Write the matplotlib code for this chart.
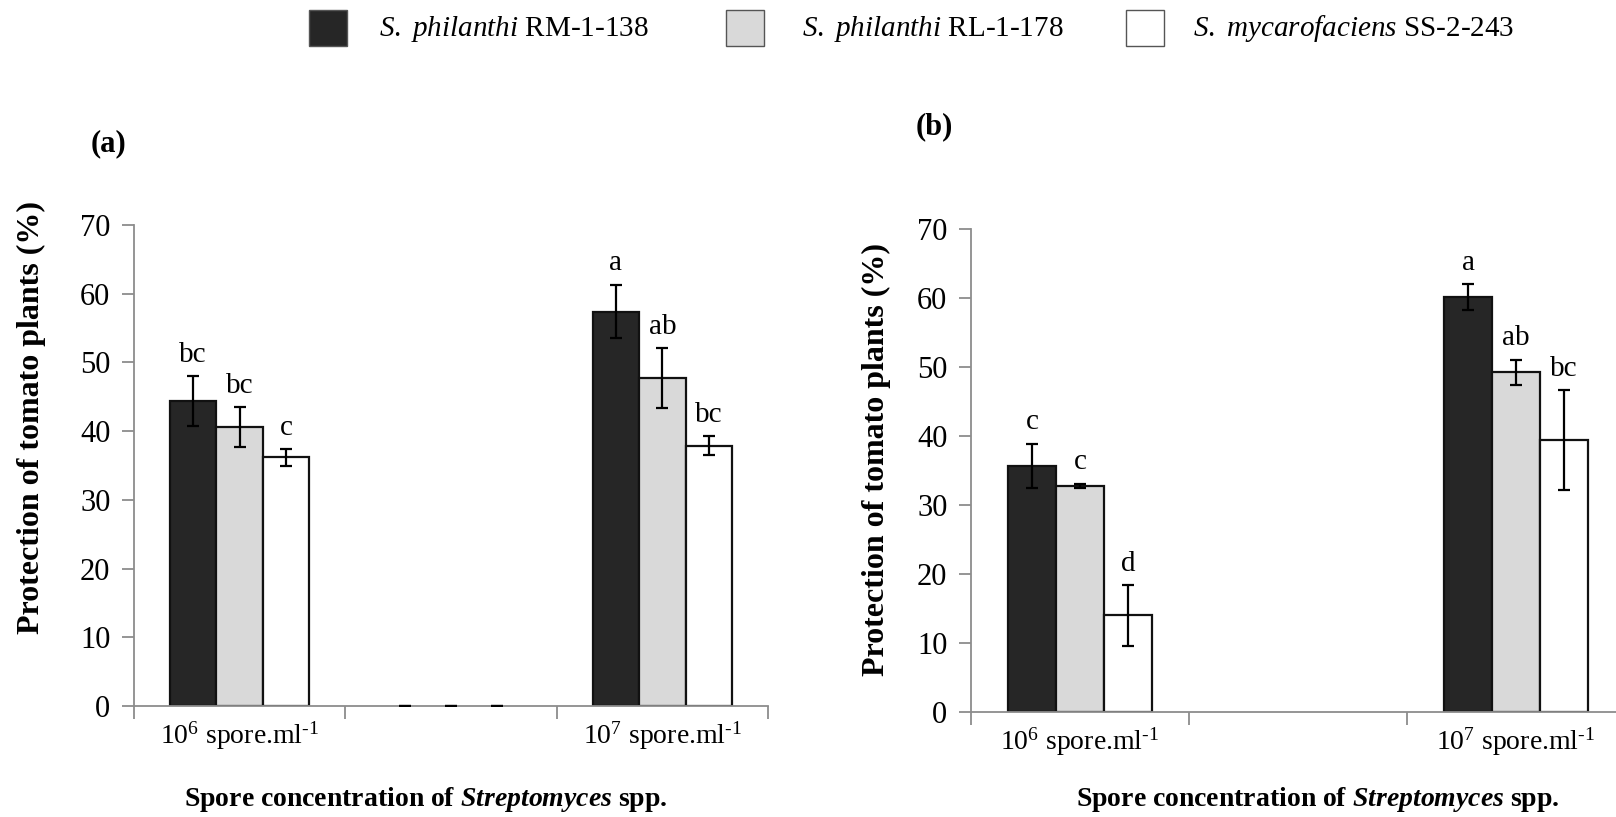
import matplotlib
matplotlib.use('Agg')
import matplotlib.pyplot as plt
import numpy as np

plt.rcParams['font.family'] = ['Liberation Serif', 'DejaVu Serif']
plt.rcParams['mathtext.fontset'] = 'custom'
plt.rcParams['mathtext.rm'] = 'Liberation Serif'
plt.rcParams['mathtext.it'] = 'Liberation Serif:italic'
plt.rcParams['mathtext.bf'] = 'Liberation Serif:bold'
plt.rcParams['mathtext.bfit'] = 'Liberation Serif:bold:italic'

# data
strains = [r'$\mathit{S.}$ $\mathit{philanthi}$ RM-1-138',
           r'$\mathit{S.}$ $\mathit{philanthi}$ RL-1-178',
           r'$\mathit{S.}$ $\mathit{mycarofaciens}$ SS-2-243']
colors = ['#262626', '#d9d9d9', '#ffffff']
cat_labels = [r'10$^{\mathrm{6}}$ spore.ml$^{\text{-}\mathrm{1}}$', '',
              r'10$^{\mathrm{7}}$ spore.ml$^{\text{-}\mathrm{1}}$']

# panel (a): 3 categories, middle one empty (zero bars)
a_vals = [[44.4, 0, 57.4], [40.6, 0, 47.7], [36.2, 0, 37.9]]
a_err = [[3.6, 0, 3.9], [2.9, 0, 4.4], [1.2, 0, 1.35]]
a_let = [['bc', None, 'a'], ['bc', None, 'ab'], ['c', None, 'bc']]

# panel (b): only first and third category drawn
b_vals = [[35.7, 60.1], [32.8, 49.25], [14.0, 39.4]]
b_err = [[3.2, 1.9], [0.3, 1.8], [4.4, 7.2]]
b_let = [['c', 'a'], ['c', 'ab'], ['d', 'bc']]
b_pos = [0, 2]

gray = '#8c8c8c'

fig = plt.figure(figsize=(16.16, 8.17), dpi=100)
ax_a = fig.add_axes([134/1616, 1-706/817, 634/1616, 481/817])
ax_b = fig.add_axes([971/1616, 1-712/817, 654/1616, 483/817])


def draw(ax, pos, vals, errs, lets):
    w = 0.22
    for i in range(3):
        x = np.array(pos) + (i - 1) * w
        v = np.array(vals[i])
        lw = np.where(v > 0, 1.6, 0)
        ax.bar(x, v, w, color=colors[i], edgecolor='#111111', linewidth=lw, zorder=2)
        ax.errorbar(x, v, yerr=errs[i], fmt='none',
                    ecolor='black', elinewidth=1.6, capsize=4.5, capthick=1.6, zorder=3)
        for xx, vv, er, l in zip(x, vals[i], errs[i], lets[i]):
            if l:
                ax.annotate(l, (xx, vv + er), xytext=(0, 6), textcoords='offset points',
                            ha='center', va='bottom', fontsize=21)
    ax.set_xlim(-0.5, 2.5)
    ax.set_ylim(0, 70)
    ax.set_yticks(range(0, 71, 10))
    ax.set_xticks([-0.5, 0.5, 1.5, 2.5])
    ax.set_xticklabels([])
    ax.set_xticks([0, 1, 2], minor=True)
    ax.set_xticklabels(cat_labels, minor=True, fontsize=20)
    ax.tick_params(axis='x', which='minor', length=0, pad=10)
    ax.tick_params(axis='x', which='major', length=9, width=1.3, color=gray)
    ax.tick_params(axis='y', length=9, width=1.3, color=gray, labelsize=22, pad=8)
    for s in ['top', 'right']:
        ax.spines[s].set_visible(False)
    for s in ['left', 'bottom']:
        ax.spines[s].set_color(gray)
        ax.spines[s].set_linewidth(1.3)


draw(ax_a, [0, 1, 2], a_vals, a_err, a_let)
draw(ax_b, b_pos, b_vals, b_err, b_let)

ylab = 'Protection of tomato plants (%)'
xlab = r'$\mathbf{Spore\ concentration\ of}$ $\mathbfit{Streptomyces}$ $\mathbf{spp.}$'
fig.text(31/1616, 1-418/817, ylab, rotation=90, ha='center', va='center',
         fontsize=23, fontweight='bold')
fig.text(876/1616, 1-459/817, ylab, rotation=90, ha='center', va='center',
         fontsize=23, fontweight='bold')
fig.text(426/1616, 1-799/817, xlab, ha='center', va='center', fontsize=20)
fig.text(1318/1616, 1-799/817, xlab, ha='center', va='center', fontsize=20)
fig.text(108/1616, 1-144/817, '(a)', ha='center', va='center', fontsize=22, fontweight='bold')
fig.text(934/1616, 1-127/817, '(b)', ha='center', va='center', fontsize=22, fontweight='bold')

# legend at top
box_x = [309, 726, 1126]
txt_x = [379, 802, 1193]
for i in range(3):
    fig.patches.append(plt.Rectangle((box_x[i]/1616, 1-46/817), 38/1616, 36/817,
                                     transform=fig.transFigure, facecolor=colors[i],
                                     edgecolor='#555555', linewidth=1.0))
    fig.text(txt_x[i]/1616, 1-29/817, strains[i], ha='left', va='center', fontsize=21)

fig.savefig('out.png', dpi=100)
